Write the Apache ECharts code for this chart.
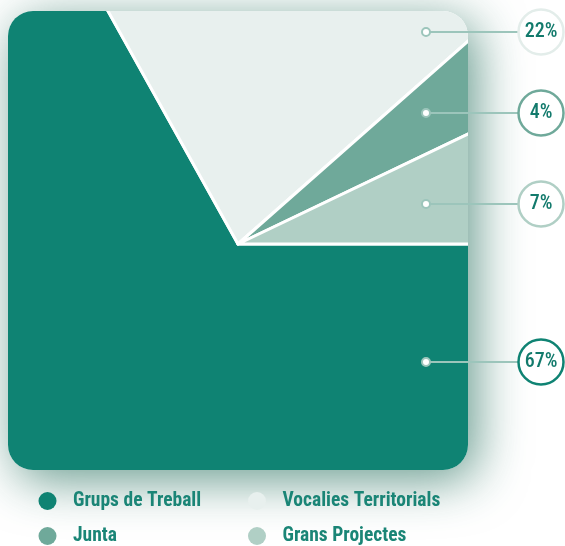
<!DOCTYPE html>
<html>
<head>
<meta charset="utf-8">
<script src="https://cdn.jsdelivr.net/npm/echarts@6/dist/echarts.min.js"></script>
<style>
html,body{margin:0;padding:0;background:#fff;}
#chart{width:565px;height:546px;}
</style>
</head>
<body>
<div id="chart"></div>
<script>
const categories = ['Grups de Treball', 'Vocalies Territorials', 'Junta', 'Grans Projectes'];
const values = [66.9, 21.6, 4.4, 7.1];
const colors = ['#0f8373', '#e8f0ee', '#6fa99a', '#b0cfc5'];
const ringColors = ['#0f8373', '#e3edea', '#6fa99a', '#b0cfc5'];

const FONT = "'Roboto Condensed','Liberation Sans Narrow','DejaVu Sans Condensed','Open Sans Condensed','Noto Sans',sans-serif";
const frame = { x: 8, y: 11, width: 460, height: 459, r: 25 };
const callout = { dotX: 426, circleX: 541, radius: 22.5, ys: [362, 32, 113, 204] };

const chart = echarts.init(document.getElementById('chart'), null, { renderer: 'canvas' });

const graphics = [
  {
    type: 'rect', zlevel: 0, z: 0, silent: true,
    shape: frame,
    style: { fill: '#ffffff', shadowBlur: 50, shadowColor: 'rgba(20,100,80,0.65)', shadowOffsetX: 8, shadowOffsetY: 10 }
  },
  {
    type: 'rect', zlevel: 1, z: 100, silent: true,
    shape: frame,
    style: { fill: '#000', blend: 'destination-in' }
  }
];

categories.forEach((c, i) => {
  const y = callout.ys[i];
  graphics.push({
    type: 'line', zlevel: 2, z: 1, silent: true,
    shape: { x1: callout.dotX, y1: y, x2: callout.circleX - callout.radius, y2: y },
    style: { stroke: '#9cc5bb', lineWidth: 2 }
  });
  graphics.push({
    type: 'circle', zlevel: 2, z: 2, silent: true,
    shape: { cx: callout.dotX, cy: y, r: 4 },
    style: { fill: '#fff', stroke: '#9cc5bb', lineWidth: 2 }
  });
  graphics.push({
    type: 'circle', zlevel: 2, z: 2, silent: true,
    shape: { cx: callout.circleX, cy: y, r: callout.radius },
    style: { fill: '#fff', stroke: ringColors[i], lineWidth: 2.5 }
  });
  graphics.push({
    type: 'text', zlevel: 2, z: 3, silent: true,
    x: callout.circleX, y: y,
    style: {
      text: Math.round(values[i]) + '%', fill: '#127a6c', font: '500 20px ' + FONT,
      align: 'center', verticalAlign: 'middle'
    }
  });
});

const legendCommon = {
  orient: 'vertical', top: 491, height: 60, padding: 0, itemGap: 15, icon: 'circle',
  itemWidth: 18, itemHeight: 18, selectedMode: false,
  itemStyle: { borderWidth: 0 },
  textStyle: { fontFamily: FONT, fontWeight: 'bold', fontSize: 19.5, color: '#1a8576', padding: [0, 0, 0, 11.5] }
};

chart.setOption({
  animation: false,
  color: colors,
  legend: [
    Object.assign({}, legendCommon, { left: 38.5, data: [categories[0], categories[2]] }),
    Object.assign({}, legendCommon, { left: 248, data: [categories[1], categories[3]] })
  ],
  graphic: graphics,
  series: [{
    type: 'pie',
    zlevel: 1,
    center: [238, 244],
    radius: [0, 340],
    startAngle: 0,
    clockwise: true,
    silent: true,
    label: { show: false },
    labelLine: { show: false },
    emphasis: { disabled: true },
    itemStyle: { borderColor: '#ffffff', borderWidth: 3 },
    data: categories.map((c, i) => ({ name: c, value: values[i] }))
  }]
});
</script>
</body>
</html>
